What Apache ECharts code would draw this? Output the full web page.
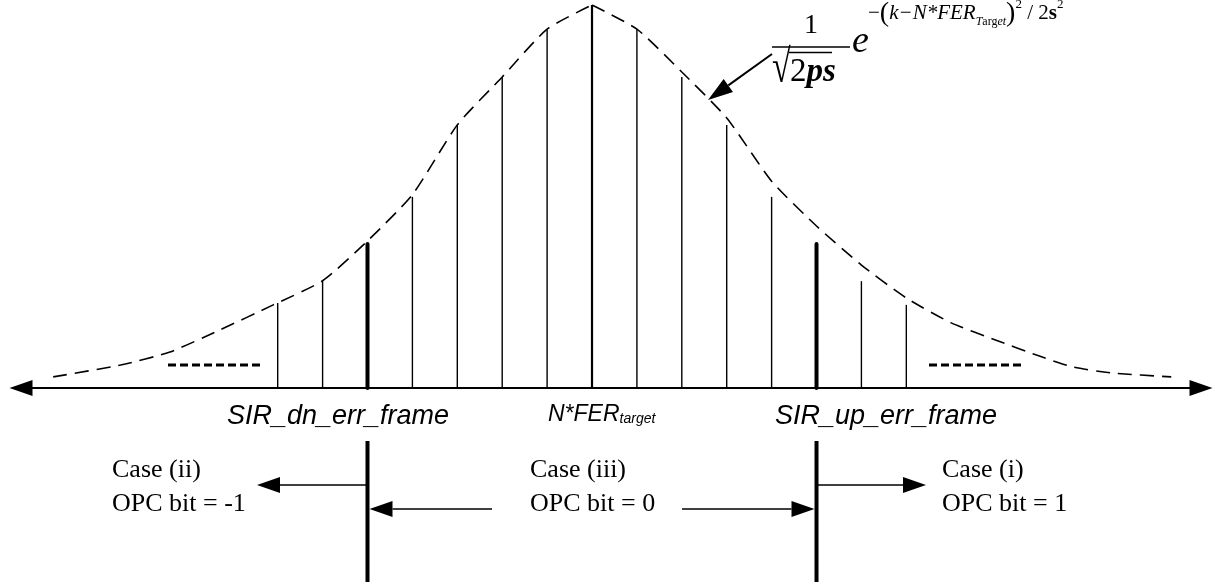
<!DOCTYPE html>
<html><head><meta charset="utf-8">
<script src="https://cdn.jsdelivr.net/npm/echarts@6/dist/echarts.min.js"></script>
<style>html,body{margin:0;padding:0;background:#fff}#c{width:1222px;height:582px}</style>
</head><body><div id="c"></div>
<script>
// ---------- DATA ----------
// discrete stems: k offset from N*FER_target, height as % of the peak
const stemK = [-7, -6, -5, -4, -3, -2, -1, 0, 1, 2, 3, 4, 5, 6, 7];
const stemH = [22.2, 27.9, 37.6, 49.9, 68.7, 81.2, 93.7, 100, 93.7, 81.2, 68.7, 49.9, 37.6, 27.9, 21.7];
// dashed gaussian envelope (left half and right half, meeting at the peak)
const curveLeftK  = [-12.0, -10.5, -9.4, -8.3, -7.1, -6, -5, -4, -3, -2, -1, 0];
const curveLeftH  = [2.9, 6.0, 9.4, 15.1, 21.7, 28.0, 38.4, 50.5, 68.7, 81.2, 93.7, 100];
const curveRightK = [0, 1, 2, 3, 4, 5, 6, 7, 8.0, 9.0, 9.9, 10.7, 11.6, 12.9];
const curveRightH = [100, 93.7, 82.5, 70.5, 54.0, 42.3, 32.1, 23.5, 17.0, 12.5, 8.6, 5.5, 3.9, 2.9];
// thresholds
const kDn = -5, kTarget = 0, kUp = 5;
// texts
const labelDn = 'SIR_dn_err_frame';
const labelUp = 'SIR_up_err_frame';
const labelTargetMain = 'N*FER', labelTargetSub = 'target';
const caseII = ['Case (ii)', 'OPC bit = -1'];
const caseIII = ['Case (iii)', 'OPC bit = 0'];
const caseI = ['Case (i)', 'OPC bit = 1'];

// ---------- CHART ----------
const chart = echarts.init(document.getElementById('c'), null, {renderer: 'canvas'});
const SERIF = '"Liberation Serif", "Times New Roman", serif';
const SANS = '"Liberation Sans", Arial, sans-serif';

function arrow(x1, y1, x2, y2, len, half, lw) {
  const dx = x2 - x1, dy = y2 - y1, L = Math.hypot(dx, dy), ux = dx / L, uy = dy / L;
  const bx = x2 - ux * len, by = y2 - uy * len;
  return [
    {type: 'line', shape: {x1: x1, y1: y1, x2: bx, y2: by}, style: {stroke: '#000', lineWidth: lw}},
    {type: 'polygon', shape: {points: [[x2, y2], [bx - uy * half, by + ux * half], [bx + uy * half, by - ux * half]]}, style: {fill: '#000'}}
  ];
}
function txt(x, y, s, font, extra) {
  return {type: 'text', x: x, y: y, style: Object.assign({text: s, font: font, fill: '#000', align: 'left', verticalAlign: 'middle'}, extra || {})};
}

const curveStyle = {color: '#000', width: 1.6, type: [14, 8]};
const option = {
  animation: false,
  backgroundColor: '#fff',
  grid: {left: 21, right: 21, top: 5, bottom: 0, containLabel: false},
  xAxis: {
    type: 'value', min: -12.717, max: 13.563,
    axisLabel: {show: false}, axisTick: {show: false}, splitLine: {show: false},
    axisLine: {show: true, onZero: true, symbol: ['triangle', 'triangle'], symbolSize: [16, 23],
      lineStyle: {color: '#000', width: 2}}
  },
  yAxis: {
    type: 'value', min: -50.65, max: 100,
    axisLabel: {show: false}, axisTick: {show: false}, splitLine: {show: false}, axisLine: {show: false}
  },
  series: [
    {
      type: 'line', data: curveLeftK.map((k, i) => [k, curveLeftH[i]]),
      showSymbol: false, smooth: 0.2,
      lineStyle: curveStyle, z: 3
    },
    {
      type: 'line', data: curveRightK.map((k, i) => [k, curveRightH[i]]),
      showSymbol: false, smooth: 0.2,
      lineStyle: curveStyle, z: 3
    },
    {
      type: 'custom', z: 4,
      data: stemK.map((k, i) => [k, stemH[i]]),
      renderItem: function (params, api) {
        const k = api.value(0);
        const p0 = api.coord([k, 0]);
        const p1 = api.coord([k, api.value(1)]);
        const thick = (k === kDn || k === kUp);
        const mid = (k === kTarget);
        return {type: 'line', shape: {x1: p0[0], y1: p0[1], x2: p1[0], y2: p1[1]},
          style: {stroke: '#000', lineWidth: thick ? 4 : (mid ? 2.2 : 1.4), lineCap: thick ? 'round' : 'butt'}};
      }
    },
    {
      type: 'custom', z: 4,
      data: [[kDn], [kUp]],
      renderItem: function (params, api) {
        const x = api.coord([api.value(0), 0])[0];
        return {type: 'line', shape: {x1: x, y1: 441, x2: x, y2: 582},
          style: {stroke: '#000', lineWidth: 4}};
      }
    }
  ]
};
chart.setOption(option);

const xDn = chart.convertToPixel({gridIndex: 0}, [kDn, 0])[0];
const xUp = chart.convertToPixel({gridIndex: 0}, [kUp, 0])[0];

const g = [];
// ellipsis dashes
g.push({type: 'line', shape: {x1: 168, y1: 365, x2: 262, y2: 365}, style: {stroke: '#000', lineWidth: 3, lineDash: [8, 4]}});
g.push({type: 'line', shape: {x1: 929, y1: 365, x2: 1021, y2: 365}, style: {stroke: '#000', lineWidth: 3, lineDash: [8, 4]}});
// axis labels
g.push(txt(227, 416, labelDn, 'italic 27px ' + SANS));
g.push(txt(775, 416, labelUp, 'italic 27px ' + SANS));
g.push({type: 'text', x: 548, y: 415, style: {
  text: '{m|' + labelTargetMain + '}{s|' + labelTargetSub + '}', fill: '#000', align: 'left', verticalAlign: 'middle',
  rich: {m: {fontSize: 23, fontStyle: 'italic', fontFamily: SANS, lineHeight: 23},
         s: {fontSize: 14, fontStyle: 'italic', fontFamily: SANS, lineHeight: 14, verticalAlign: 'bottom'}}}});
// cases
g.push(txt(112, 470, caseII[0], '26px ' + SERIF));
g.push(txt(112, 504, caseII[1], '26px ' + SERIF));
g.push(txt(530, 470, caseIII[0], '26px ' + SERIF));
g.push(txt(530, 504, caseIII[1], '26px ' + SERIF));
g.push(txt(942, 470, caseI[0], '26px ' + SERIF));
g.push(txt(942, 504, caseI[1], '26px ' + SERIF));
// case arrows
g.push.apply(g, arrow(xDn, 485, 257, 485, 23, 8, 1.5));
g.push.apply(g, arrow(492, 509, xDn + 2, 509, 23, 8, 1.5));
g.push.apply(g, arrow(682, 509, xUp - 2, 509, 23, 8, 1.5));
g.push.apply(g, arrow(xUp, 485, 926, 485, 23, 8, 1.5));
// formula
g.push(txt(811, 26, '1', '28px ' + SERIF, {align: 'center'}));
g.push({type: 'line', shape: {x1: 772, y1: 47, x2: 850, y2: 47}, style: {stroke: '#000', lineWidth: 1.5}});
g.push(Object.assign(txt(772, 70, '\u221A', '34px ' + SERIF), {scaleY: 1.38, originX: 0, originY: 0}));
g.push({type: 'line', shape: {x1: 789, y1: 52.5, x2: 832, y2: 52.5}, style: {stroke: '#000', lineWidth: 1.3}});
g.push({type: 'text', x: 790, y: 72, style: {
  text: '{r|2}{b|ps}', fill: '#000', align: 'left', verticalAlign: 'middle',
  rich: {r: {fontSize: 33, fontFamily: SERIF}, b: {fontSize: 33, fontFamily: SERIF, fontWeight: 'bold', fontStyle: 'italic'}}}});
g.push(txt(852, 41.7, 'e', 'italic 38px ' + SERIF));
g.push({type: 'text', x: 868, y: -1.75, style: {
  text: '{a|\u2212}{p|(}{i|k\u2212N*FER}{t|T}{u|arg}{t|et}{p|)}{sp|2}{n| / 2}{b|s}{sp|2}',
  fill: '#000', align: 'left', verticalAlign: 'top',
  rich: {
    a: {fontSize: 21, fontFamily: SERIF, lineHeight: 30},
    p: {fontSize: 28, fontFamily: SERIF, lineHeight: 30},
    i: {fontSize: 21, fontFamily: SERIF, fontStyle: 'italic', lineHeight: 30},
    t: {fontSize: 12, fontFamily: SERIF, fontStyle: 'italic', lineHeight: 12, verticalAlign: 'bottom'},
    u: {fontSize: 12, fontFamily: SERIF, lineHeight: 12, verticalAlign: 'bottom'},
    sp: {fontSize: 13, fontFamily: SERIF, lineHeight: 13, verticalAlign: 'top'},
    n: {fontSize: 21, fontFamily: SERIF, lineHeight: 30},
    b: {fontSize: 21, fontFamily: SERIF, fontWeight: 'bold', lineHeight: 30}
  }}});
// formula pointer
g.push.apply(g, arrow(772, 54, 708, 100, 25, 8, 2));

chart.setOption({graphic: {elements: g}});
</script>
</body></html>
